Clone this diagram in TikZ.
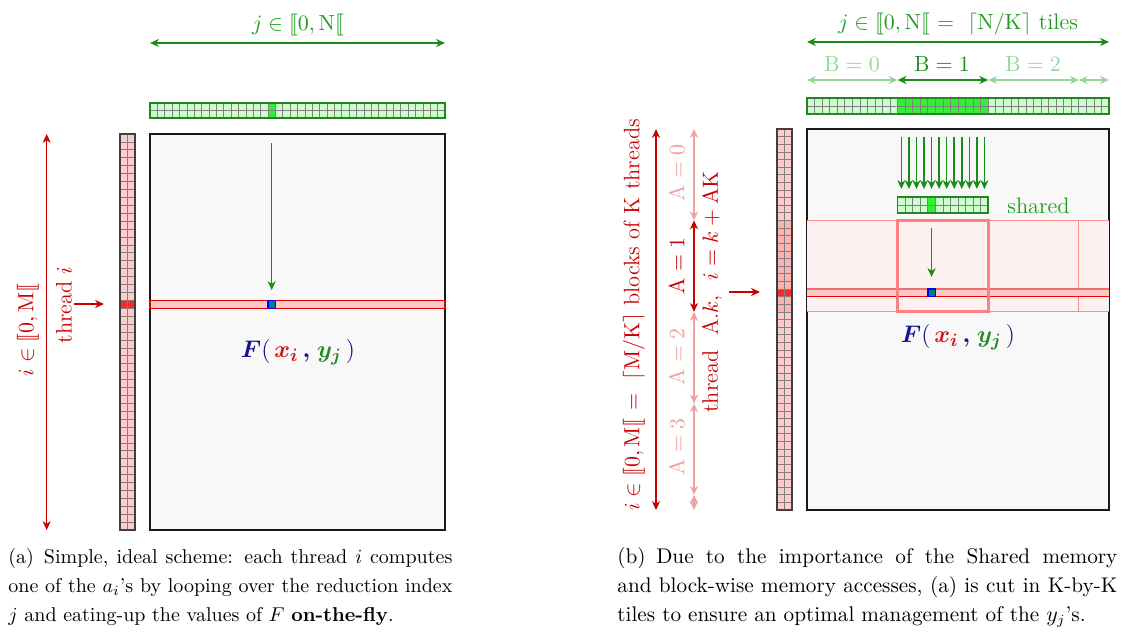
\documentclass[tikz,border=0pt]{standalone}
\usepackage{amsmath,amssymb,bm,stmaryrd}
\usetikzlibrary{arrows.meta}
\definecolor{dgreen}{RGB}{25,140,25}
\definecolor{tgreen}{RGB}{30,155,30}
\definecolor{lgreen}{RGB}{150,215,150}
\definecolor{cellgreen}{RGB}{204,255,204}
\definecolor{hgreen}{RGB}{51,240,51}
\definecolor{bargreen}{RGB}{40,130,40}
\definecolor{dred}{RGB}{200,0,0}
\definecolor{lred}{RGB}{240,160,160}
\definecolor{cellred}{RGB}{255,204,204}
\definecolor{blockred}{RGB}{255,178,178}
\definecolor{hred}{RGB}{255,40,40}
\definecolor{bandred}{RGB}{255,200,200}
\definecolor{tilepink}{RGB}{253,240,240}
\definecolor{tileline}{RGB}{255,140,140}
\definecolor{tilebox}{RGB}{255,128,128}
\definecolor{salmon2}{RGB}{236,110,110}
\definecolor{matfill}{RGB}{248,248,248}
\definecolor{fblue}{RGB}{20,20,140}
\definecolor{fred}{RGB}{210,20,20}
\definecolor{fgreen}{RGB}{30,140,30}
\definecolor{tealsq}{RGB}{0,125,125}
\newcommand{\lblsize}{\fontsize{11.2}{13}\selectfont}
\newcommand{\Fxy}{$\textcolor{fblue}{\bm{F}(}\,\textcolor{fred}{\bm{x_i}}\,\textcolor{fblue}{\bm{,}}\;\textcolor{fgreen}{\bm{y_j}}\,\textcolor{fblue}{)}$}
\tikzset{
  tipS/.style={-{Stealth[length=4.4pt,width=4pt,inset=1.3pt]}},
  tipD/.style={{Stealth[length=4.4pt,width=4pt,inset=1.3pt]}-{Stealth[length=4.4pt,width=4pt,inset=1.3pt]}},
  lbl/.style={inner sep=0pt, font=\lblsize},
  matbox/.style={draw=black!90, line width=1.2pt, fill=matfill},
  gridln/.style={draw=gray, line width=0.35pt},
  gbar/.style={draw=bargreen, line width=0.8pt},
  rbar/.style={draw=black!75, line width=0.9pt},
  arr/.style={line width=0.75pt},
  fnode/.style={inner sep=0pt, font=\fontsize{12.3}{14}\selectfont}
}
\begin{document}
\begin{tikzpicture}[x=0.5pt,y=-0.5pt]
\useasboundingbox (0,0) rectangle (1126,634);

%================ (a) =================
% top arrow
\draw[dgreen, tipD, arr] (150,43) -- (445,43);
\node[lbl, text=tgreen, anchor=base] (ja) at (298,30) {$j\in\llbracket 0,\mathrm{N}\llbracket$};
% green bar
\fill[cellgreen] (150,103) rectangle (445,118);
\fill[hgreen] ({150+16*7.375},103) rectangle ++(7.375,15);
\foreach \c in {1,...,39} \draw[gridln] ({150+\c*7.375},103) -- ++(0,15);
\draw[gridln] (150,110.5) -- (445,110.5);
\draw[gbar] (150,103) rectangle (445,118);
% red column
\fill[cellred] (120,134) rectangle (135,530);
\fill[hred] (120,{134+21*7.92}) rectangle ++(15,7.92);
\foreach \r in {1,...,49} \draw[gridln] (120,{134+\r*7.92}) -- ++(15,0);
\draw[gridln] (127.5,134) -- (127.5,530);
\draw[rbar] (120,134) rectangle (135,530);
% matrix
\draw[matbox] (150,134) rectangle (445,530);
\draw[fill=bandred, draw=red!85!black, line width=0.6pt] (150,300.3) rectangle (445,308.2);
\draw[fill=tealsq, draw=blue, line width=0.7pt] (268,300.3) rectangle (275.4,308.2);
\draw[dgreen, tipS, arr] (271.7,143) -- (271.7,290);
\node[fnode] (Fa) at (298,352) {\Fxy};
% left arrows and labels
\draw[dred, tipS, arr] (74,304) -- (104,304);
\draw[dred, tipD, arr] (46.7,134) -- (46.7,530);
\node[lbl, text=dred, rotate=90] (iMa) at (28,330) {$i\in\llbracket 0,\mathrm{M}\llbracket$};
\node[lbl, text=dred, rotate=90] (thra) at (64,305) {thread $i$};
% caption
\node[anchor=base west, inner sep=0pt] (capa) at (8,563) {\parbox[t]{222pt}{\fontsize{10}{14.5}\selectfont (a)\enskip Simple, ideal scheme: each thread $i$ computes\linebreak one of the $a_i$'s by looping over the reduction index\linebreak $j$ and eating-up the values of $F$ \textbf{on-the-fly}.}};

%================ (b) =================
% top arrows
\draw[dgreen, tipD, arr] (807,42) -- (1109,42);
\node[lbl, text=tgreen, anchor=base] (jb) at (958,29) {$j\in\llbracket 0,\mathrm{N}\llbracket\ =\ \lceil \mathrm{N}/\mathrm{K}\rceil$ tiles};
\draw[lgreen, tipD, arr] (807,80) -- (897.6,80);
\draw[dgreen, tipD, arr] (897.6,80) -- (988.2,80);
\draw[lgreen, tipD, arr] (988.2,80) -- (1078.8,80);
\draw[lgreen, tipD, arr] (1078.8,80) -- (1109,80);
\node[lbl, text=lgreen, anchor=base] (B0) at (852,71) {$\mathrm{B}=0$};
\node[lbl, text=dgreen, anchor=base] (B1) at (942,71) {$\mathrm{B}=1$};
\node[lbl, text=lgreen, anchor=base] (B2) at (1033,71) {$\mathrm{B}=2$};
% green bar
\fill[cellgreen] (807,98) rectangle (1109,114);
\fill[hgreen] ({807+12*7.55},98) rectangle ({807+24*7.55},114);
\foreach \c in {1,...,39} \draw[gridln] ({807+\c*7.55},98) -- ++(0,16);
\draw[gridln] (807,106) -- (1109,106);
\draw[gbar] (807,98) rectangle (1109,114);
% red column
\fill[cellred] (777,129) rectangle (792,510);
\fill[blockred] (777,{129+12*7.62}) rectangle (792,{129+24*7.62});
\fill[hred] (777,{129+21*7.62}) rectangle ++(15,7.62);
\foreach \r in {1,...,49} \draw[gridln] (777,{129+\r*7.62}) -- ++(15,0);
\draw[gridln] (784.5,129) -- (784.5,510);
\draw[rbar] (777,129) rectangle (792,510);
% matrix
\draw[matbox] (807,129) rectangle (1109,510);
\fill[tilepink] (807,220.4) rectangle (1109,311.9);
\draw[tileline, line width=0.5pt] (807,220.4) -- (1109,220.4);
\draw[tileline, line width=0.5pt] (807,311.9) -- (1109,311.9);
\draw[tileline, line width=0.5pt] (1078.8,220.4) -- (1078.8,311.9);
\fill[bandred] (807,289) rectangle (1109,296.6);
\draw[salmon2, line width=1pt] (807,289) -- (1109,289);
\draw[red, line width=0.5pt] (807,296.6) -- (1109,296.6);
\draw[tilebox, line width=1.5pt] (897.6,220.4) rectangle (988.2,311.9);
\draw[fill=tealsq, draw=blue, line width=0.7pt] (927.8,289) rectangle (935.35,296.6);
\draw[dgreen, tipS, arr] (931.6,228) -- (931.6,277);
% shared bar
\fill[cellgreen] (897.6,197) rectangle (988.2,213);
\fill[hgreen] ({897.6+4*7.55},197) rectangle ++(7.55,16);
\foreach \c in {1,...,11} \draw[gridln] ({897.6+\c*7.55},197) -- ++(0,16);
\draw[gridln] (897.6,205) -- (988.2,205);
\draw[gbar] (897.6,197) rectangle (988.2,213);
\node[lbl, text=tgreen, anchor=base west] (sh) at (1007,213) {shared};
\foreach \c in {0,...,11} \draw[dgreen, tipS, arr] ({897.6+(\c+0.5)*7.55},137) -- ({897.6+(\c+0.5)*7.55},189);
\node[fnode] (Fb) at (958,337) {\Fxy};
% left arrows
\draw[dred, tipS, arr] (729,292) -- (760,292);
\draw[dred, tipD, arr] (656,129) -- (656,510);
\draw[lred, tipD, arr] (694,129) -- (694,220.4);
\draw[dred, tipD, arr] (694,220.4) -- (694,311.9);
\draw[lred, tipD, arr] (694,311.9) -- (694,403.4);
\draw[lred, tipD, arr] (694,403.4) -- (694,494.8);
\draw[lred, tipD, arr] (694,494.8) -- (694,510);
\node[lbl, text=dred, rotate=90] (iMb) at (634,315) {$i\in\llbracket 0,\mathrm{M}\llbracket\ =\ \lceil \mathrm{M}/\mathrm{K}\rceil$ blocks of K threads};
\node[lbl, text=lred, rotate=90] (A0) at (677,173) {$\mathrm{A}=0$};
\node[lbl, text=dred, rotate=90] (A1) at (677,266) {$\mathrm{A}=1$};
\node[lbl, text=lred, rotate=90] (A2) at (677,357) {$\mathrm{A}=2$};
\node[lbl, text=lred, rotate=90] (A3) at (677,447) {$\mathrm{A}=3$};
\node[lbl, text=dred, rotate=90] (thrb) at (712,292) {thread\ \ A.$k$,\ \ $i=k+\mathrm{AK}$};
% caption
\node[anchor=base west, inner sep=0pt] (capb) at (617,563) {\parbox[t]{250pt}{\fontsize{10.6}{14.5}\selectfont (b)\enskip Due to the importance of the Shared memory\linebreak and block-wise memory accesses, (a) is cut in K-by-K\linebreak tiles to ensure an optimal management of the $y_j$'s.}};
\end{tikzpicture}
\end{document}
